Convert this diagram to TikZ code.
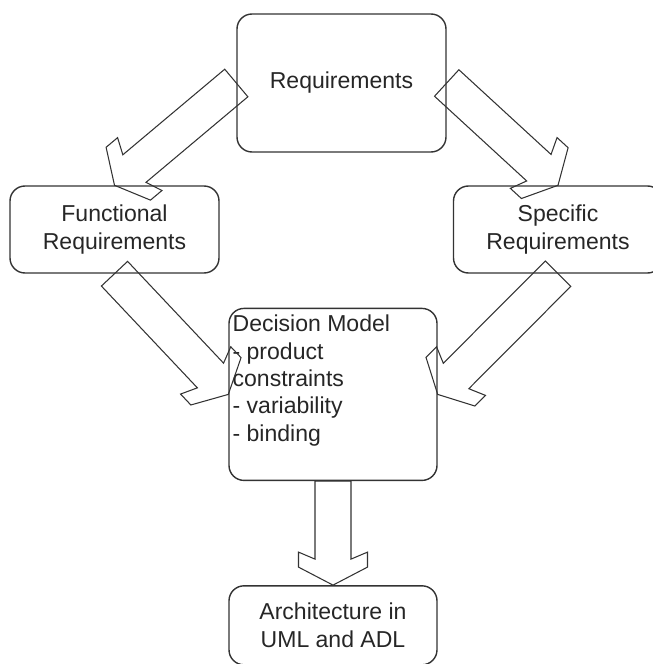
\documentclass[tikz,border=0pt]{standalone}
\usepackage{fontspec}
\setmainfont{Liberation Sans}
\usetikzlibrary{positioning, calc}
\tikzset{
    box/.style={draw=black!80, line width=0.8pt, rounded corners=0.3cm, align=center, text=black!85, minimum width=4.18cm, font={\fontsize{13.1}{15.6}\selectfont}},
    boxtext/.style={align=left, inner sep=0pt, text=black!85, font={\fontsize{13.1}{15.6}\selectfont}},
    fat/.style={draw=black!80, line width=0.6pt, line join=miter}
}
\newcommand{\shafthw}{0.36cm}
\newcommand{\headhw}{0.69cm}
\newcommand{\shaftend}{0.52cm}
\newcommand{\barbback}{0.66cm}
\newcommand{\barbfront}{0.36cm}
\newcommand{\fatarrow}[2]{%
    \draw [fat] ($(#1)!\shafthw!90:(#2)$)
        -- ($(#2)!\shaftend!(#1)!\shafthw!-90:(#1)$)
        -- ($(#2)!\barbback!(#1)!\headhw!-90:(#1)$)
        -- ($(#2)!\barbfront!(#1)!\headhw!-90:(#1)$)
        -- (#2)
        -- ($(#2)!\barbfront!(#1)!\headhw!90:(#1)$)
        -- ($(#2)!\barbback!(#1)!\headhw!90:(#1)$)
        -- ($(#2)!\shaftend!(#1)!\shafthw!90:(#1)$)
        -- ($(#1)!\shafthw!-90:(#2)$) -- cycle;}

\begin{document}
\begin{tikzpicture}
    \useasboundingbox (0,0) rectangle (13.04,-13.28);
    \node [box, minimum height=2.76cm] (req) at (6.83,-1.66) {Requirements};
    \node [box, minimum height=1.74cm] (func) at (2.29,-4.59) {Functional\\Requirements};
    \node [box, minimum height=1.74cm] (spec) at (11.16,-4.59) {Specific\\Requirements};
    \node [box, minimum width=4.16cm, minimum height=3.44cm, below=3.1cm of req, xshift=-1.7mm] (dec) {};
    \node [boxtext, anchor=north west] (dectext) at ($(dec.north west)+(0.08,-0.14)$) {Decision Model\\- product\\constraints\\- variability\\- binding};
    \node [box, minimum width=4.16cm, minimum height=1.58cm, below=2.08cm of dec] (arch) {Architecture in\\UML and ADL};
    \fatarrow{req.west}{func.north}
    \fatarrow{req.east}{spec.north}
    \fatarrow{func.south}{dec.west}
    \fatarrow{spec.south}{dec.east}
    \fatarrow{dec.south}{arch.north}
\end{tikzpicture}
\end{document}
